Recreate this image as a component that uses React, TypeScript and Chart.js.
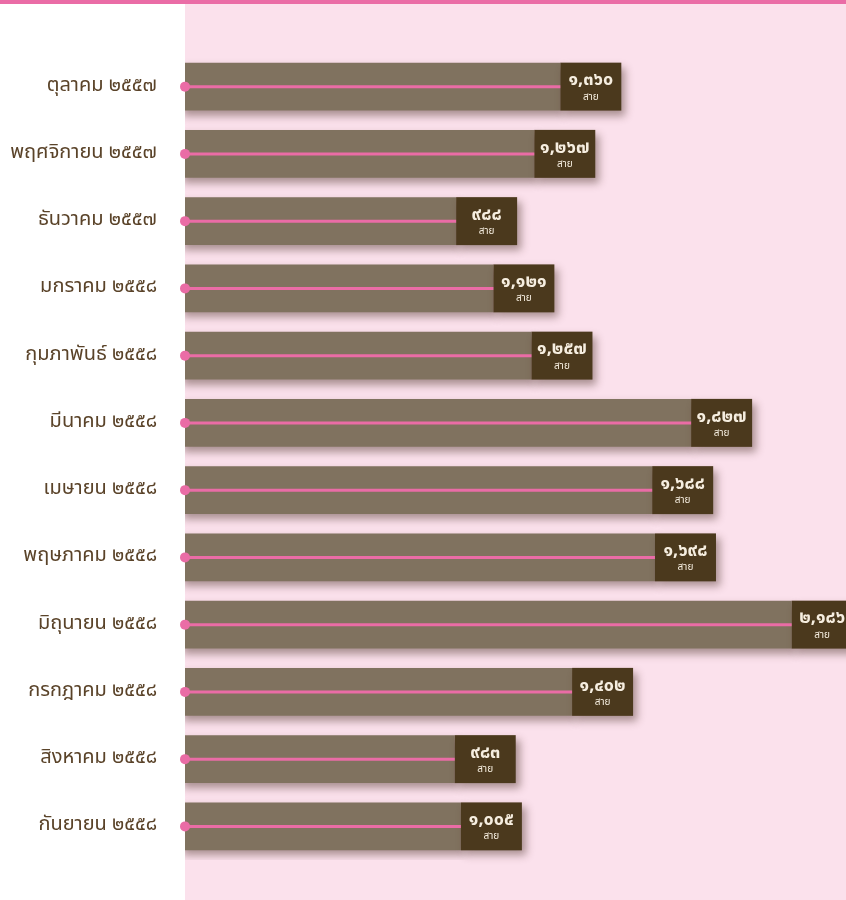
import React, { useEffect, useRef } from "react";
import { Chart, registerables } from "chart.js";

Chart.register(...registerables);

const months: string[] = [
  "ตุลาคม ๒๕๕๗",
  "พฤศจิกายน ๒๕๕๗",
  "ธันวาคม ๒๕๕๗",
  "มกราคม ๒๕๕๘",
  "กุมภาพันธ์ ๒๕๕๘",
  "มีนาคม ๒๕๕๘",
  "เมษายน ๒๕๕๘",
  "พฤษภาคม ๒๕๕๘",
  "มิถุนายน ๒๕๕๘",
  "กรกฎาคม ๒๕๕๘",
  "สิงหาคม ๒๕๕๘",
  "กันยายน ๒๕๕๘",
];

const lineCounts: number[] = [1360, 1267, 988, 1121, 1257, 1827, 1688, 1698, 2186, 1402, 983, 1005];

const unitLabel = "สาย";

const THAI_DIGITS = ["๐", "๑", "๒", "๓", "๔", "๕", "๖", "๗", "๘", "๙"];
function toThai(n: number): string {
  const s = n.toLocaleString("en-US");
  return s.replace(/[0-9]/g, (d) => THAI_DIGITS[+d]);
}

const FONT = "'Noto Sans Thai', 'Noto Sans Thai UI', 'Noto Sans', 'DejaVu Sans', sans-serif";

const PINK_BG = "#FBE1EC";
const PINK = "#EA6CA6";
const GRAY = "#80725F";
const DARK = "#4B391D";
const TEXT_LIGHT = "#F6EEE0";
const LABEL = "#5A4329";
const BOX_W = 61;

const decorPlugin = {
  id: "decor",
  beforeDraw(chart: any) {
    const { ctx, chartArea, width, height } = chart;
    ctx.save();
    ctx.fillStyle = "#ffffff";
    ctx.fillRect(0, 0, width, height);
    ctx.fillStyle = PINK_BG;
    ctx.fillRect(chartArea.left, 0, width - chartArea.left, height);
    ctx.fillStyle = PINK;
    ctx.fillRect(0, 0, width, 4);
    ctx.restore();
  },
  beforeDatasetDraw(chart: any) {
    const ctx = chart.ctx;
    ctx.save();
    ctx.shadowColor = "rgba(70,45,35,0.45)";
    ctx.shadowBlur = 8;
    ctx.shadowOffsetX = 4;
    ctx.shadowOffsetY = 5;
  },
  afterDatasetDraw(chart: any) {
    const ctx = chart.ctx;
    const meta = chart.getDatasetMeta(0);
    meta.data.forEach((bar: any) => {
      const h = bar.height;
      ctx.fillStyle = DARK;
      ctx.fillRect(bar.x, bar.y - h / 2, BOX_W, h);
    });
    ctx.restore();
  },
  afterDatasetsDraw(chart: any) {
    const { ctx, chartArea } = chart;
    const meta = chart.getDatasetMeta(0);
    ctx.save();
    meta.data.forEach((bar: any, i: number) => {
      const y = bar.y;
      ctx.strokeStyle = PINK;
      ctx.lineWidth = 3;
      ctx.beginPath();
      ctx.moveTo(chartArea.left, y);
      ctx.lineTo(bar.x, y);
      ctx.stroke();
      ctx.fillStyle = PINK;
      ctx.beginPath();
      ctx.arc(chartArea.left, y, 5, 0, Math.PI * 2);
      ctx.fill();
      const cx = bar.x + BOX_W / 2;
      ctx.fillStyle = TEXT_LIGHT;
      ctx.textAlign = "center";
      ctx.textBaseline = "middle";
      ctx.font = `bold 18px ${FONT}`;
      ctx.fillText(toThai(lineCounts[i]), cx, y - 5);
      ctx.font = `10px ${FONT}`;
      ctx.fillText(unitLabel, cx, y + 11);
    });
    ctx.restore();
  },
};

export default function App() {
  const ref = useRef<HTMLCanvasElement | null>(null);
  useEffect(() => {
    if (!ref.current) return;
    const chart = new Chart(ref.current, {
      type: "bar",
      data: {
        labels: months,
        datasets: [
          {
            data: lineCounts,
            backgroundColor: GRAY,
            borderWidth: 0,
            barPercentage: 0.713,
            categoryPercentage: 1,
          },
        ],
      },
      options: {
        indexAxis: "y",
        responsive: false,
        animation: false,
        devicePixelRatio: 1,
        layout: { padding: { top: 53, bottom: 39, left: 0, right: 0 } },
        plugins: { legend: { display: false }, tooltip: { enabled: false } },
        scales: {
          x: {
            display: false,
            min: 20,
            max: 2380,
          },
          y: {
            grid: { display: false, drawTicks: false },
            border: { display: false },
            ticks: {
              padding: 28,
              color: LABEL,
              font: { family: FONT, size: 20 },
            },
            afterFit(scale: any) {
              scale.width = 185;
            },
          },
        },
      },
      plugins: [decorPlugin],
    });
    return () => chart.destroy();
  }, []);
  return (
    <div style={{ position: "absolute", left: 0, top: 0, width: 846, height: 900 }}>
      <canvas ref={ref} width={846} height={900} />
    </div>
  );
}
